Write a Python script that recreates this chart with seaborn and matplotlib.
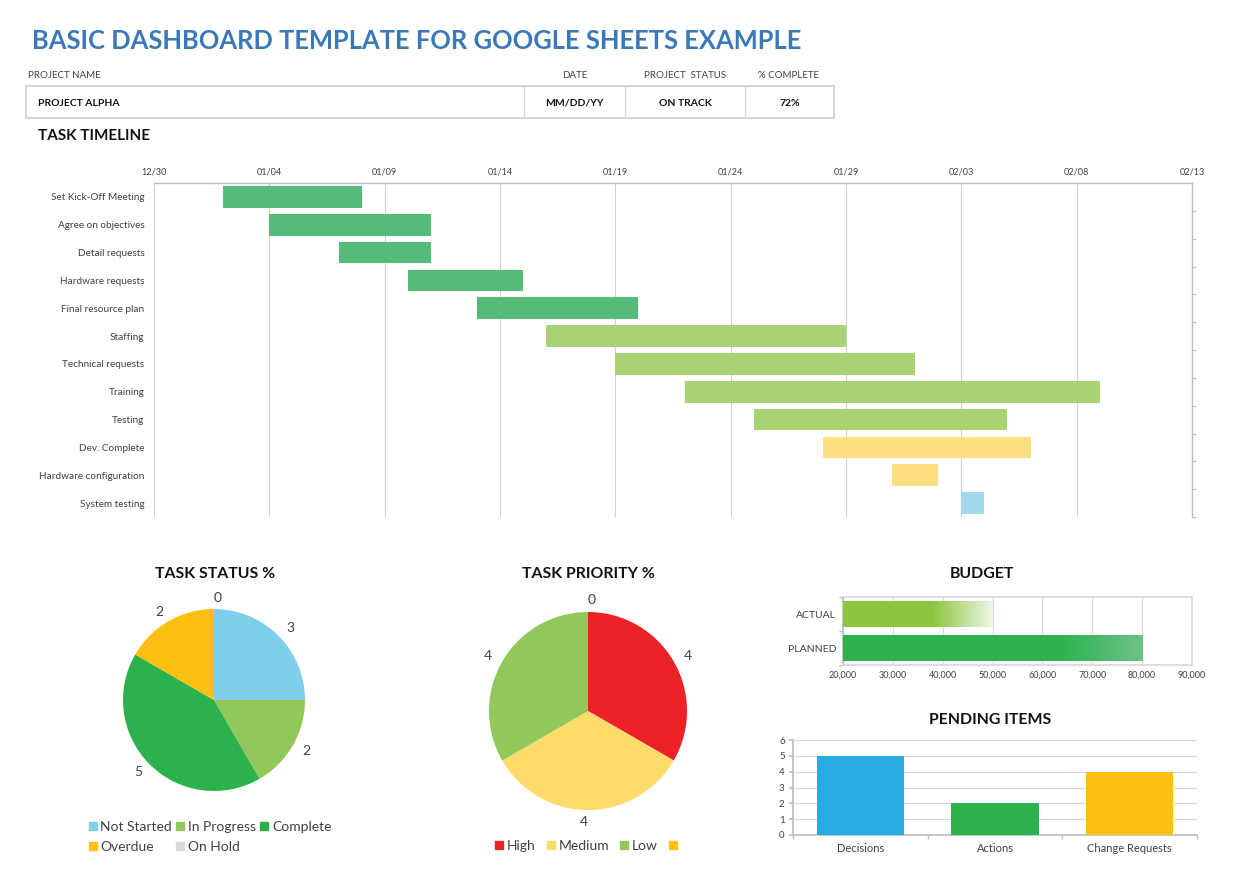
import numpy as np
import pandas as pd
import matplotlib
matplotlib.use('Agg')
import matplotlib.pyplot as plt
import matplotlib.dates as mdates
from matplotlib.colors import LinearSegmentedColormap
from matplotlib.lines import Line2D
from matplotlib.patches import Rectangle
from matplotlib.ticker import FuncFormatter
import seaborn as sns

# header block
project_name = 'PROJECT ALPHA'
project_date = 'MM/DD/YY'
project_status = 'ON TRACK'
pct_complete = '72%'

# task timeline
task_names = ['Set Kick-Off Meeting', 'Agree on objectives', 'Detail requests',
              'Hardware requests', 'Final resource plan', 'Staffing',
              'Technical requests', 'Training', 'Testing', 'Dev. Complete',
              'Hardware configuration', 'System testing']
task_start = ['2023-01-02', '2023-01-04', '2023-01-07', '2023-01-10', '2023-01-13',
              '2023-01-16', '2023-01-19', '2023-01-22', '2023-01-25', '2023-01-28',
              '2023-01-31', '2023-02-03']
task_days = [6, 7, 4, 5, 7, 13, 13, 18, 11, 9, 2, 1]
task_state = ['Complete'] * 5 + ['In Progress'] * 4 + ['Overdue'] * 2 + ['Not Started']
timeline_ticks = pd.date_range('2022-12-30', '2023-02-13', freq='5D')

# pies
status_labels = ['Not Started', 'In Progress', 'Complete', 'Overdue', 'On Hold']
status_counts = [3, 2, 5, 2, 0]
priority_labels = ['High', 'Medium', 'Low', '']
priority_counts = [4, 4, 4, 0]

# budget / pending
budget_labels = ['ACTUAL', 'PLANNED']
budget_values = [50000, 80000]
budget_ticks = [20000, 30000, 40000, 50000, 60000, 70000, 80000, 90000]
pending_labels = ['Decisions', 'Actions', 'Change Requests']
pending_counts = [5, 2, 4]

# colours
gantt_colors = {'Complete': '#55bb7a', 'In Progress': '#a9d373',
                'Overdue': '#ffdf82', 'Not Started': '#a3d9ef'}
status_colors = ['#7fcfec', '#92c85a', '#2bb24c', '#fcbf12', '#d9d9d9']
priority_colors = ['#ec2227', '#fedb6a', '#92c85a', '#fcbf12']
budget_fades = [('#8cc63f', 0.6, '#eef6e6'), ('#2bb24c', 0.72, '#6cc38a')]
pending_colors = ['#29abe2', '#2bb24c', '#fcbf12']
txt = '#404040'

sns.set_theme(style='white')
plt.rcParams['font.family'] = ['Lato', 'DejaVu Sans']

W, H = 1237, 881
fig = plt.figure(figsize=(W / 100, H / 100), dpi=100)


def px_axes(x0, y0, x1, y1):
    return fig.add_axes([x0 / W, 1 - y1 / H, (x1 - x0) / W, (y1 - y0) / H])


# background axes in pixel coordinates for the header and titles
bg = px_axes(0, 0, W, H)
bg.set_xlim(0, W)
bg.set_ylim(H, 0)
bg.axis('off')

bg.text(32, 41, 'BASIC DASHBOARD TEMPLATE FOR GOOGLE SHEETS EXAMPLE', fontsize=18.4,
        fontweight='bold', color='#3a78ba', va='center')
for label, x, ha in [('PROJECT NAME', 28, 'left'), ('DATE', 575, 'center'),
                     ('PROJECT  STATUS', 685, 'center'), ('% COMPLETE', 789, 'center')]:
    bg.text(x, 75, label, fontsize=7, color=txt, va='center', ha=ha)
bg.add_patch(Rectangle((26, 86), 808, 32, fill=False, ec='#cccccc', lw=1.2))
bg.vlines([524, 625, 745], 86, 118, color='#d9d9d9', lw=1)
for value, x, ha in [(project_name, 38, 'left'), (project_date, 574, 'center'),
                     (project_status, 685, 'center'), (pct_complete, 790, 'center')]:
    bg.text(x, 103, value, fontsize=7.5, fontweight='bold', color='#111111', va='center', ha=ha)
bg.text(38, 136, 'TASK TIMELINE', fontsize=11, fontweight='bold', color='#111111', va='center')

for label, x, y in [('TASK STATUS %', 215, 574), ('TASK PRIORITY %', 588, 574),
                    ('BUDGET', 982, 574), ('PENDING ITEMS', 990, 720)]:
    bg.text(x, y, label, fontsize=11.4, fontweight='bold', color='#111111', ha='center', va='center')

# ---- Gantt ----
gx = px_axes(154, 183, 1192, 517)
starts = mdates.date2num(pd.to_datetime(task_start))
rows = np.arange(len(task_names))
gx.barh(rows, task_days, left=starts, height=0.78, linewidth=0,
        color=[gantt_colors[s] for s in task_state], zorder=3)
gx.set_xlim(mdates.date2num(timeline_ticks[0]), mdates.date2num(timeline_ticks[-1]))
gx.set_ylim(len(task_names) - 0.5, -0.5)
gx.xaxis.tick_top()
gx.set_xticks(mdates.date2num(timeline_ticks))
gx.xaxis.set_major_formatter(mdates.DateFormatter('%m/%d'))
gx.grid(axis='x', color='#d0d0d0', lw=0.8)
gx.set_axisbelow(True)
gx.set_yticks(rows)
gx.set_yticklabels(task_names)
gx.set_yticks(rows + 0.5, minor=True)
gx.tick_params(axis='y', which='major', length=0, pad=7, labelsize=7.2, labelcolor=txt)
gx.tick_params(axis='y', which='minor', left=False, right=True, length=3, color='#bfbfbf', width=0.8)
gx.tick_params(axis='x', length=0, pad=5, labelsize=6.6, labelcolor=txt)
for side in ['left', 'bottom']:
    gx.spines[side].set_visible(False)
for side in ['top', 'right']:
    gx.spines[side].set_color('#bfbfbf')
    gx.spines[side].set_linewidth(1)


def row_major(items, ncol):
    # legend fills columns first; reorder so the entries read across rows
    return [items[i] for c in range(ncol) for i in range(c, len(items), ncol)]


# ---- Task status pie ----
r1 = 91
sx = px_axes(214 - 1.25 * r1, 700 - 1.25 * r1, 214 + 1.25 * r1, 700 + 1.25 * r1)
sx.pie(status_counts, labels=[str(v) for v in status_counts], colors=status_colors,
       startangle=90, counterclock=False, labeldistance=1.12, wedgeprops={'linewidth': 0},
       textprops={'fontsize': 10, 'color': txt})
handles = [Line2D([], [], marker='s', ls='', color=c, markersize=6) for c in status_colors]
fig.legend(row_major(handles, 3), row_major(status_labels, 3), loc='center left',
           bbox_to_anchor=(76 / W, 1 - 837 / H), ncol=3, frameon=False, fontsize=10,
           handlelength=0.6, handletextpad=0.25, columnspacing=0.3, labelspacing=0.6,
           labelcolor=txt)

# ---- Task priority pie ----
r2 = 99
prx = px_axes(588 - 1.25 * r2, 711 - 1.25 * r2, 588 + 1.25 * r2, 711 + 1.25 * r2)
prx.pie(priority_counts, labels=[str(v) for v in priority_counts], colors=priority_colors,
        startangle=90, counterclock=False, labeldistance=1.12, wedgeprops={'linewidth': 0},
        textprops={'fontsize': 10, 'color': txt})
handles = [Line2D([], [], marker='s', ls='', color=c, markersize=6) for c in priority_colors]
fig.legend(handles, priority_labels, loc='center', bbox_to_anchor=(588 / W, 1 - 846 / H),
           ncol=4, frameon=False, fontsize=10, handlelength=0.6, handletextpad=0.25,
           columnspacing=0.8, labelcolor=txt)

# ---- Budget ----
bx = px_axes(843, 597, 1192, 665)
sns.barplot(x=budget_values, y=budget_labels, hue=budget_labels, palette=[f[0] for f in budget_fades],
            legend=False, orient='h', width=0.76, saturation=1, linewidth=0, ax=bx, zorder=3)
lo, hi = budget_ticks[0], budget_ticks[-1]
for patch, (c0, mid, c1) in zip(bx.patches, budget_fades):
    cmap = LinearSegmentedColormap.from_list('fade', [(0, c0), (mid, c0), (1, c1)])
    y0, h = patch.get_y(), patch.get_height()
    bx.imshow(np.linspace(0, 1, 256)[None, :], extent=[lo, patch.get_x() + patch.get_width(), y0 + h, y0],
              aspect='auto', cmap=cmap, zorder=4)
bx.set_xlim(lo, hi)
bx.set_ylim(1.5, -0.5)
bx.set_xticks(budget_ticks)
bx.xaxis.set_major_formatter(FuncFormatter(lambda v, p: f'{v:,.0f}'))
bx.grid(axis='x', color='#d9d9d9', lw=0.8)
bx.set_axisbelow(True)
bx.set_yticks([-0.5, 0.5, 1.5], minor=True)
bx.tick_params(axis='y', which='major', length=0, pad=5, labelsize=7.5, labelcolor=txt)
bx.tick_params(axis='y', which='minor', left=True, length=3, color='#bfbfbf')
bx.tick_params(axis='x', length=0, pad=4, labelsize=6.5, labelcolor=txt)
for side in bx.spines:
    bx.spines[side].set_color('#d9d9d9')
bx.spines['left'].set_color('#bfbfbf')
bx.set_xlabel('')
bx.set_ylabel('')

# ---- Pending items ----
px = px_axes(793, 740, 1197, 835)
sns.barplot(x=pending_labels, y=pending_counts, hue=pending_labels, palette=pending_colors,
            legend=False, width=0.65, saturation=1, linewidth=0, ax=px, zorder=3)
px.set_ylim(0, 6)
px.set_xlim(-0.5, 2.5)
px.set_yticks(range(0, 7))
px.grid(axis='y', color='#d9d9d9', lw=0.8)
px.set_axisbelow(True)
px.set_xticks([-0.5, 0.5, 1.5, 2.5], minor=True)
px.tick_params(axis='x', which='major', length=0, pad=6, labelsize=8, labelcolor=txt)
px.tick_params(axis='x', which='minor', bottom=True, length=3, color='#bfbfbf')
px.tick_params(axis='y', length=3, left=True, color='#bfbfbf', pad=3, labelsize=7, labelcolor=txt)
for side in ['top', 'right']:
    px.spines[side].set_visible(False)
for side in ['left', 'bottom']:
    px.spines[side].set_color('#bfbfbf')
px.set_xlabel('')
px.set_ylabel('')

fig.savefig('out.png', dpi=100, facecolor='white')
